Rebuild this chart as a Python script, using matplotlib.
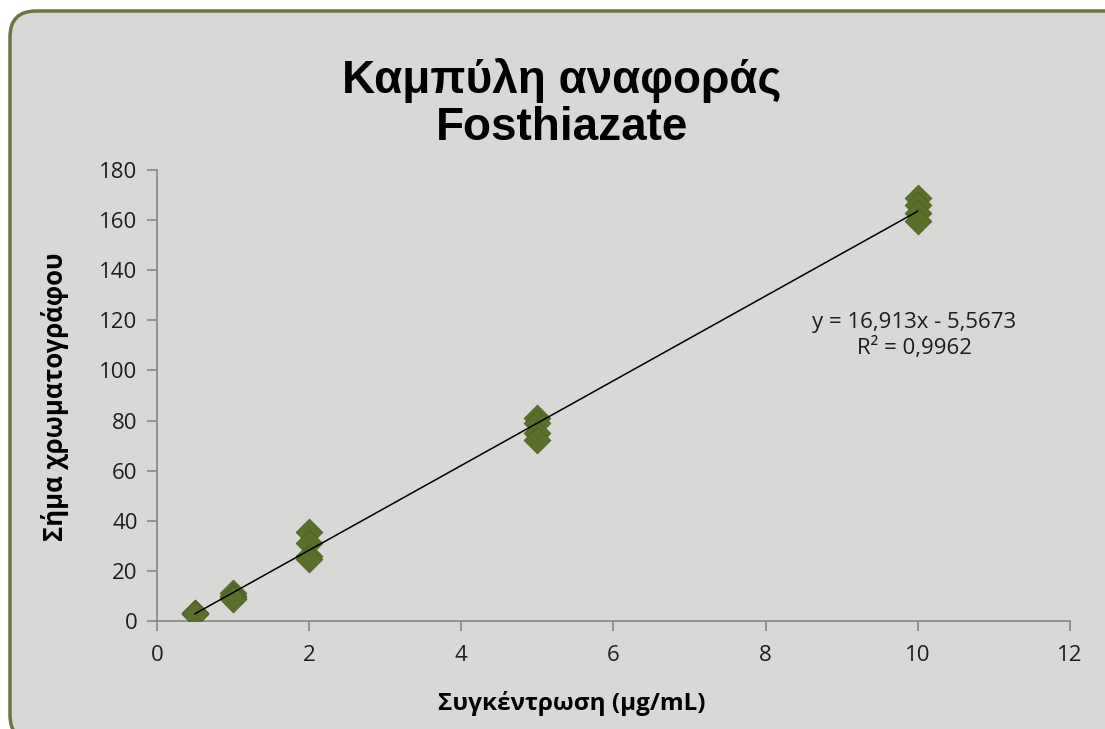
import numpy as np
import matplotlib.pyplot as plt
from matplotlib.patches import FancyBboxPatch

# Data
conc = [0.5, 0.5, 0.5, 1, 1, 1, 1, 2, 2, 2, 2, 5, 5, 5, 5, 10, 10, 10, 10]
signal = [3.2, 3.0, 2.8, 11.2, 10.0, 9.0, 8.8, 35.4, 31.2, 26.0, 24.8,
          81.2, 79.0, 75.0, 72.4, 169.0, 166.0, 163.0, 159.5]
slope = 16.913
intercept = -5.5673
r2 = 0.9962

title = 'Καμπύλη αναφοράς\nFosthiazate'
xlabel = 'Συγκέντρωση (μg/mL)'
ylabel = 'Σήμα χρωματογράφου'

bg = '#d8d8d6'
green = '#5b6f2b'
axis_grey = '#878787'

plt.rcParams['font.family'] = ['Open Sans', 'DejaVu Sans']

W, H = 1105, 729
fig = plt.figure(figsize=(W / 100, H / 100), dpi=100)
fig.patch.set_facecolor('white')

# rounded chart frame (runs off the right and bottom edges)
bgax = fig.add_axes([0, 0, 1, 1], zorder=-1)
bgax.set_xlim(0, W)
bgax.set_ylim(H, 0)
bgax.axis('off')
bgax.add_patch(FancyBboxPatch((10, 11), 1120, 730,
                              boxstyle='round,pad=0,rounding_size=26',
                              facecolor=bg, edgecolor='#66773f',
                              linewidth=2.5, clip_on=False))

ax = fig.add_axes([157 / W, 108 / H, 913 / W, 451 / H])
ax.set_facecolor('none')

ax.scatter(conc, signal, marker='D', s=185, color=green,
           edgecolor='#4e6024', linewidth=0.6, zorder=3)

xs = np.array([min(conc), max(conc)])
ax.plot(xs, slope * xs + intercept, color='black', linewidth=1.1, zorder=4)

ax.set_xlim(0, 12)
ax.set_ylim(0, 180)
ax.set_xticks(range(0, 13, 2))
ax.set_yticks(range(0, 181, 20))

for side in ['top', 'right']:
    ax.spines[side].set_visible(False)
for side in ['left', 'bottom']:
    ax.spines[side].set_color(axis_grey)
    ax.spines[side].set_linewidth(1.2)
ax.tick_params(colors=axis_grey, labelcolor='#1e1e1e', labelsize=16,
               length=7, width=1.2, direction='out')
ax.tick_params(axis='x', pad=10)
ax.tick_params(axis='y', pad=7)

fig.text(562 / W, 1 - 104 / H, title, ha='center', va='center', fontsize=33,
         fontweight='bold', family=['Liberation Sans', 'DejaVu Sans'],
         linespacing=1.08)
fig.text(572 / W, 1 - 704 / H, xlabel, ha='center', va='center',
         fontsize=17.5, fontweight='bold')
fig.text(55 / W, 1 - 397 / H, ylabel, ha='center', va='center',
         fontsize=18.5, fontweight='bold', rotation=90)

eq = 'y = {:.3f}x - {:.4f}\nR² = {:.4f}'.format(slope, -intercept, r2).replace('.', ',')
ax.text(9.95, 114, eq, ha='center', va='center', fontsize=16,
        color='#1e1e1e', linespacing=1.2)

fig.savefig('out.png', dpi=100, facecolor=fig.get_facecolor())
